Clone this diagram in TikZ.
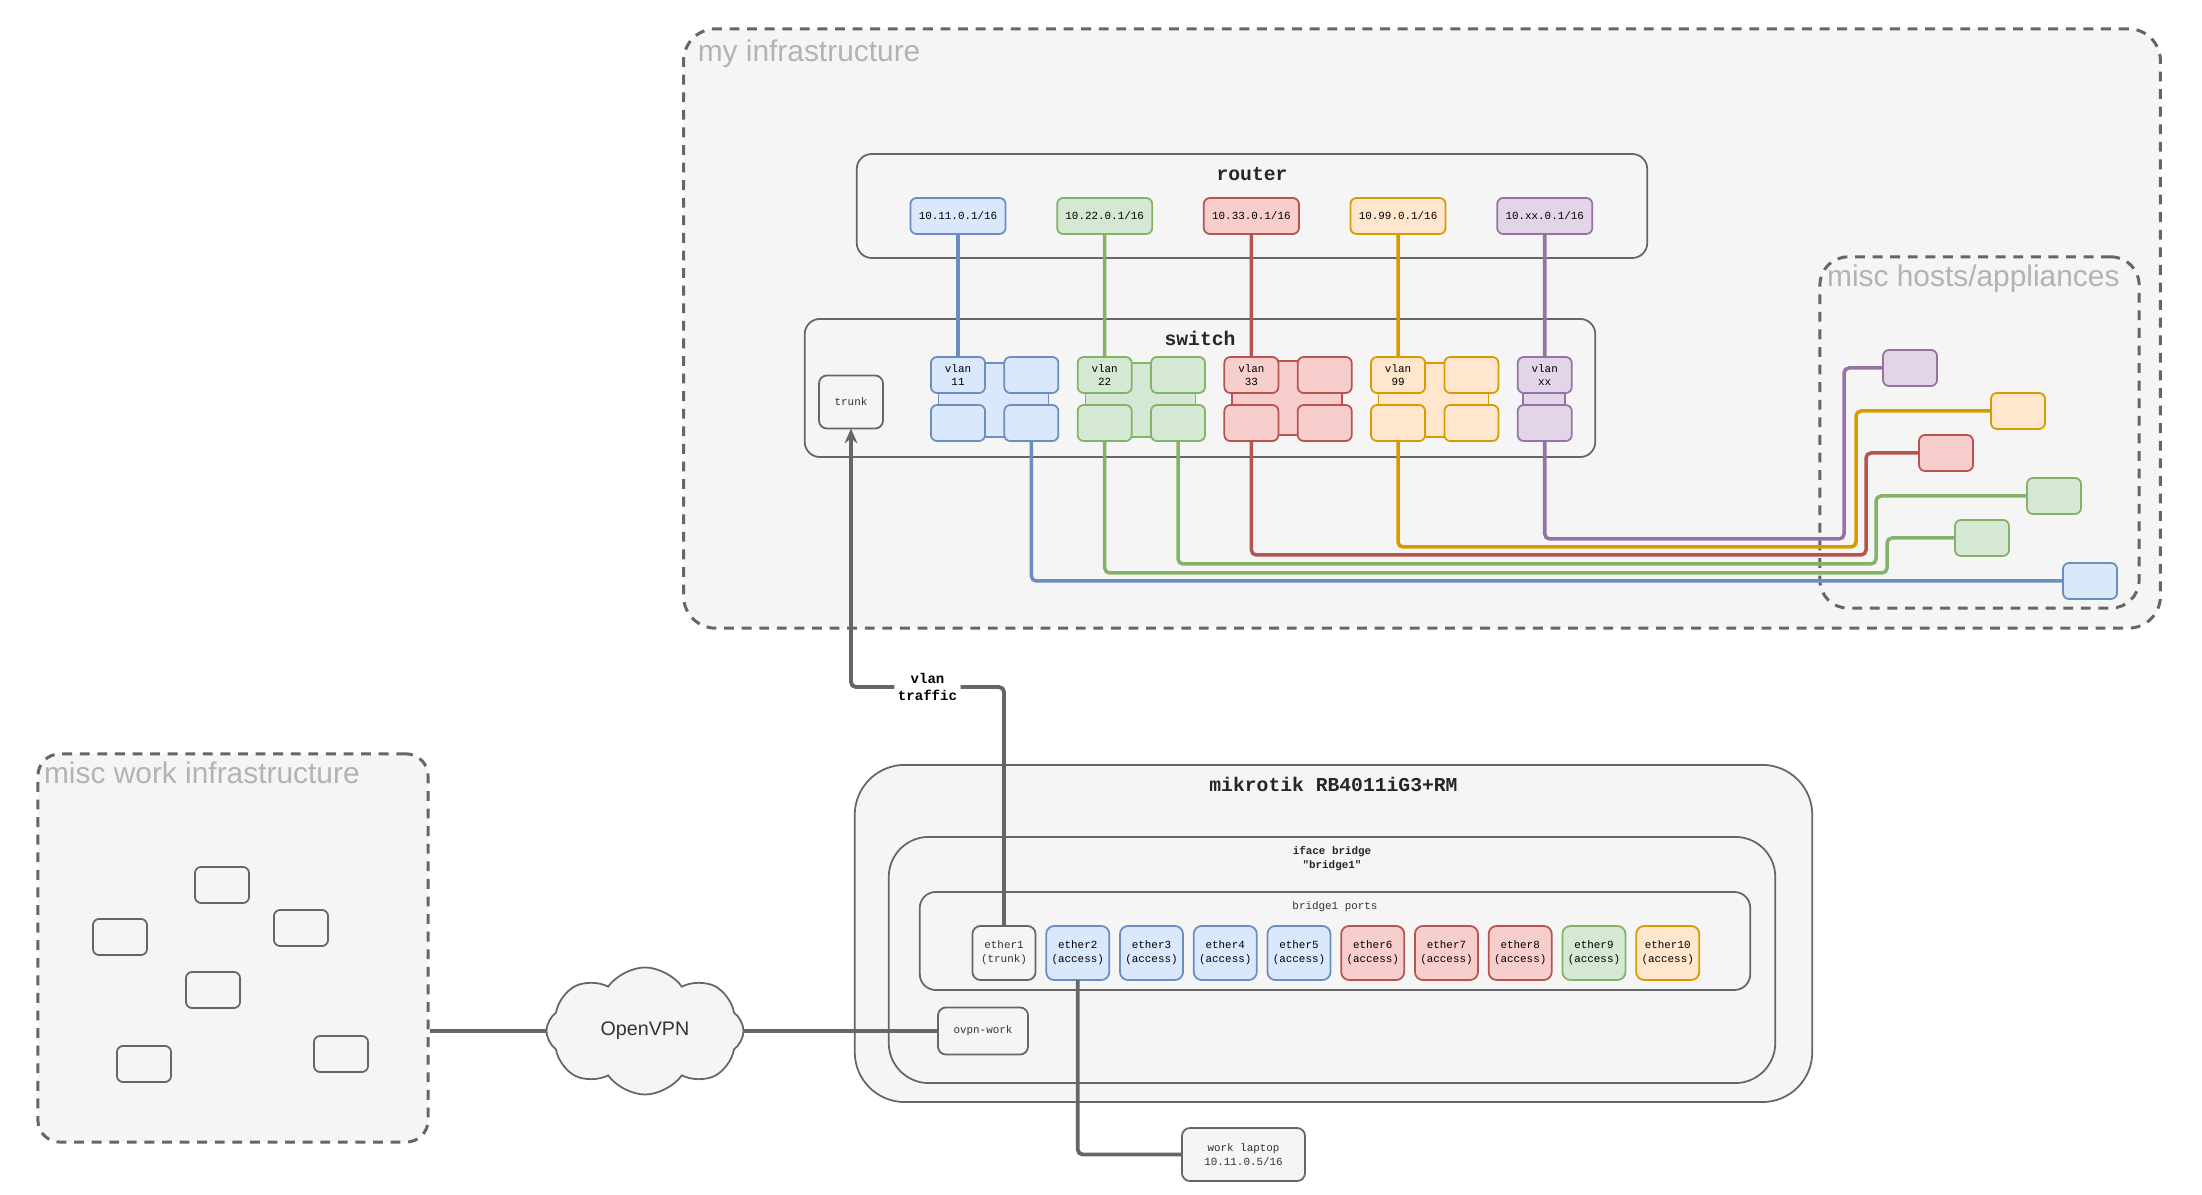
\documentclass[tikz,border=0pt]{standalone}
\usepackage{fontspec}
\setmainfont{Liberation Sans}
\setmonofont{Liberation Mono}
\usetikzlibrary{shapes.symbols, arrows.meta, positioning, calc}

\definecolor{paneFill}{HTML}{F5F5F5}
\definecolor{paneLine}{HTML}{666666}
\definecolor{paneText}{HTML}{B3B3B3}
\definecolor{darkText}{HTML}{333333}
\definecolor{plainFill}{HTML}{F5F5F5}
\definecolor{plainLine}{HTML}{666666}
\definecolor{blueFill}{HTML}{DAE8FC}
\definecolor{blueLine}{HTML}{6C8EBF}
\definecolor{greenFill}{HTML}{D5E8D4}
\definecolor{greenLine}{HTML}{82B366}
\definecolor{redFill}{HTML}{F8CECC}
\definecolor{redLine}{HTML}{B85450}
\definecolor{orangeFill}{HTML}{FFE6CC}
\definecolor{orangeLine}{HTML}{D79B00}
\definecolor{purpleFill}{HTML}{E1D5E7}
\definecolor{purpleLine}{HTML}{9673A6}

\begin{document}
\begin{tikzpicture}[
        x=0.01cm, y=-0.01cm,
        % Define styles for the different blocks
        zone/.style={rectangle, draw=paneLine, fill=paneFill, line width=0.85pt, dash pattern=on 2.8pt off 2.2pt, rounded corners=#1, inner sep=0},
        zonelabel/.style={anchor=base west, inner sep=0, text=paneText, font=\fontsize{8.5}{10}\selectfont},
        device/.style={rectangle, draw=paneLine, fill=paneFill, line width=0.5pt, rounded corners=#1, inner sep=0},
        title/.style={inner sep=0, align=center, text=black!85, font=\ttfamily\bfseries\fontsize{5.6}{6.5}\selectfont},
        subtitle/.style={inner sep=0, align=center, text=black!85, font=\ttfamily\bfseries\fontsize{3.1}{4}\selectfont},
        ipbox/.style={rectangle, draw=#1Line, fill=#1Fill, line width=0.5pt, rounded corners=0.06cm, minimum width=0.95cm, minimum height=0.36cm, inner sep=0, outer sep=0, font=\ttfamily\fontsize{3.1}{3.9}\selectfont},
        cell/.style={rectangle, draw=#1Line, fill=#1Fill, line width=0.5pt, rounded corners=0.06cm, minimum width=0.54cm, minimum height=0.36cm, inner sep=0, outer sep=0, align=center, font=\ttfamily\fontsize{3.1}{3.9}\selectfont},
        grp/.style={rectangle, draw=#1Line, fill=#1Fill, line width=0.5pt, minimum width=1.1cm, minimum height=0.74cm, inner sep=0},
        eport/.style={rectangle, draw=#1Line, fill=#1Fill, line width=0.5pt, rounded corners=0.08cm, minimum width=0.63cm, minimum height=0.54cm, inner sep=0, outer sep=0, align=center, font=\ttfamily\fontsize{3.1}{4}\selectfont},
        wire/.style={draw=#1Line, line width=1pt, rounded corners=0.05cm},
        link/.style={draw=paneLine, line width=1.1pt, rounded corners=0.05cm}
    ]
    \useasboundingbox (0,0) rectangle (2202,1195);

    % --- Zones ---
    \node [zone=0.32cm, minimum width=14.76cm, minimum height=5.99cm] (infra) at (1422,328.5) {};
    \node [zonelabel] (infraLbl) at ($(infra.north west)+(15,34)$) {my infrastructure};
    \node [zone=0.28cm, minimum width=3.19cm, minimum height=3.51cm] (hostzone) at (1979.5,432.5) {};
    \node [zonelabel] (hostLbl) at ($(hostzone.north west)+(8,31)$) {misc hosts/appliances};
    \node [zone=0.22cm, minimum width=3.90cm, minimum height=3.88cm] (workzone) at (233,948) {};
    \node [zonelabel] (workLbl) at ($(workzone.north west)+(7,31)$) {misc work infrastructure};

    % --- Devices ---
    \node [device=0.15cm, minimum width=7.90cm, minimum height=1.04cm] (router) at (1252,206) {};
    \node [title, below=0.14cm of router.north] (routerTitle) {router};
    \node [device=0.15cm, minimum width=7.90cm, minimum height=1.38cm] (switch) at (1200,388) {};
    \node [title, below=0.12cm of switch.north] (switchTitle) {switch};
    \node [device=0.5cm, minimum width=9.57cm, minimum height=3.37cm] (mikrotik) at (1333.5,933.5) {};
    \node [title, below=0.13cm of mikrotik.north] (mikrotikTitle) {mikrotik RB4011iG3+RM};
    \node [device=0.4cm, minimum width=8.86cm, minimum height=2.46cm] (bridge) at (1332,960) {};
    \node [subtitle, below=0.1cm of bridge.north] (bridgeTitle) {iface bridge\\"bridge1"};
    \node [device=0.16cm, minimum width=8.30cm, minimum height=0.98cm] (ports) at (1335,941) {};
    \node [subtitle, font=\ttfamily\fontsize{3.1}{4}\selectfont, text=darkText, below=0.1cm of ports.north] (portsTitle) {bridge1 ports};

    % Router addresses
    \node [ipbox=blue] (ip11) at (958,216) {10.11.0.1/16};
    \node [ipbox=green, right=0.516cm of ip11] (ip22) {10.22.0.1/16};
    \node [ipbox=red, right=0.516cm of ip22] (ip33) {10.33.0.1/16};
    \node [ipbox=orange, right=0.516cm of ip33] (ip99) {10.99.0.1/16};
    \node [ipbox=purple, right=0.516cm of ip99] (ipxx) {10.xx.0.1/16};

    % Switch vlans
    \node [cell=plain, minimum width=0.64cm, minimum height=0.53cm, rounded corners=0.08cm, text=darkText] (trunk) at (851,402) {trunk};
    \node [grp=blue] (g11) at (993.5,400) {};
    \node [grp=green] (g22) at (1140.5,400) {};
    \node [grp=red] (g33) at (1287,398) {};
    \node [grp=orange] (g99) at (1433.5,400) {};
    \node [grp=purple, minimum width=0.42cm] (gxx) at (1544,400) {};

    \node [cell=blue] (v11) at (958,375) {vlan\\11};
    \node [cell=blue, right=0.193cm of v11] (v11b) {};
    \node [cell=blue, below=0.12cm of v11] (v11c) {};
    \node [cell=blue, below=0.12cm of v11b] (v11d) {};
    \node [cell=green, right=0.193cm of v11b] (v22) {vlan\\22};
    \node [cell=green, right=0.193cm of v22] (v22b) {};
    \node [cell=green, below=0.12cm of v22] (v22c) {};
    \node [cell=green, below=0.12cm of v22b] (v22d) {};
    \node [cell=red, right=0.193cm of v22b] (v33) {vlan\\33};
    \node [cell=red, right=0.193cm of v33] (v33b) {};
    \node [cell=red, below=0.12cm of v33] (v33c) {};
    \node [cell=red, below=0.12cm of v33b] (v33d) {};
    \node [cell=orange, right=0.193cm of v33b] (v99) {vlan\\99};
    \node [cell=orange, right=0.193cm of v99] (v99b) {};
    \node [cell=orange, below=0.12cm of v99] (v99c) {};
    \node [cell=orange, below=0.12cm of v99b] (v99d) {};
    \node [cell=purple, right=0.193cm of v99b] (vxx) {vlan\\xx};
    \node [cell=purple, below=0.12cm of vxx] (vxxb) {};

    % Misc hosts
    \node [cell=purple] (hpurple) at (1910,368) {};
    \node [cell=orange] (horange) at (2018,411) {};
    \node [cell=red] (hred) at (1946,453) {};
    \node [cell=green] (hgreenA) at (2054,496) {};
    \node [cell=green] (hgreenB) at (1982,538) {};
    \node [cell=blue] (hblue) at (2090,581) {};

    % Work hosts
    \node [cell=plain] (w1) at (222,885) {};
    \node [cell=plain] (w2) at (120,937) {};
    \node [cell=plain] (w3) at (301,928) {};
    \node [cell=plain] (w4) at (213,990) {};
    \node [cell=plain] (w5) at (144,1064) {};
    \node [cell=plain] (w6) at (341,1054) {};

    % Bridge ports
    \node [eport=plain, text=darkText] (ether1) at (1004,953) {ether1\\(trunk)};
    \node [eport=blue, right=0.107cm of ether1] (ether2) {ether2\\(access)};
    \node [eport=blue, right=0.107cm of ether2] (ether3) {ether3\\(access)};
    \node [eport=blue, right=0.107cm of ether3] (ether4) {ether4\\(access)};
    \node [eport=blue, right=0.107cm of ether4] (ether5) {ether5\\(access)};
    \node [eport=red, right=0.107cm of ether5] (ether6) {ether6\\(access)};
    \node [eport=red, right=0.107cm of ether6] (ether7) {ether7\\(access)};
    \node [eport=red, right=0.107cm of ether7] (ether8) {ether8\\(access)};
    \node [eport=green, right=0.107cm of ether8] (ether9) {ether9\\(access)};
    \node [eport=orange, right=0.107cm of ether9] (ether10) {ether10\\(access)};

    \node [eport=plain, minimum width=0.90cm, minimum height=0.47cm, text=darkText] (ovpn) at (983,1031) {ovpn-work};
    \node [eport=plain, minimum width=1.23cm, minimum height=0.53cm, text=darkText] (laptop) at (1243.5,1154.5) {work laptop\\10.11.0.5/16};
    \node [cloud, cloud puffs=8, cloud puff arc=110, cloud ignores aspect, draw=paneLine, fill=paneFill, line width=0.5pt, minimum width=1.97cm, minimum height=1.27cm, inner sep=0, text=darkText, font=\fontsize{5.6}{6.5}\selectfont] (vpn) at (645,1031) {OpenVPN};

    % --- Edges ---
    \path [wire=blue] (ip11) -- (v11);
    \path [wire=green] (ip22) -- (v22);
    \path [wire=red] (ip33) -- (v33);
    \path [wire=orange] (ip99) -- (v99);
    \path [wire=purple] (ipxx) -- (vxx);

    % Bends towards the hosts
    \coordinate (bendP) at (1844,539);
    \coordinate (bendO) at (1856,547);
    \coordinate (bendR) at (1866,555);
    \coordinate (bendG1) at (1876,564);
    \coordinate (bendG2) at (1887,573);

    \path [wire=purple] (vxxb) |- (bendP) |- (hpurple);
    \path [wire=orange] (v99c) |- (bendO) |- (horange);
    \path [wire=red] (v33c) |- (bendR) |- (hred);
    \path [wire=green] (v22d) |- (bendG1) |- (hgreenA);
    \path [wire=green] (v22c) |- (bendG2) |- (hgreenB);
    \path [wire=blue] (v11d) |- (hblue);

    % Uplink and tunnel
    \coordinate (tbend) at (851,687);
    \path [link, -{Stealth[length=4.2pt, width=3.6pt]}] (ether1) |- (tbend)
        node[pos=0.75, fill=white, inner sep=1pt, align=center, text=black, font=\ttfamily\bfseries\fontsize{4}{5}\selectfont] (trafficLbl) {vlan\\traffic}
        -- (trunk);
    \path [link] (workzone.east |- vpn) -- (vpn);
    \path [link] (vpn) -- (ovpn);
    \path [link] (ether2) |- (laptop);

\end{tikzpicture}
\end{document}
